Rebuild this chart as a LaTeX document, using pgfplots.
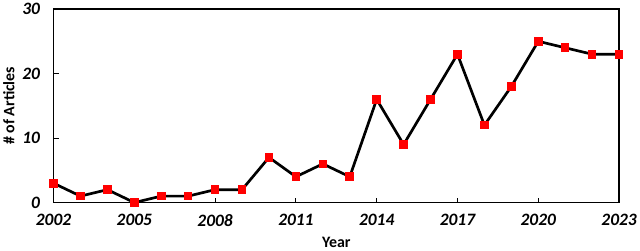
\documentclass[border=0pt]{standalone}
\usepackage{pgfplots}
\pgfplotsset{compat=1.18}
\usepackage{fontspec}
\setmainfont{Carlito}
\begin{document}
\begin{tikzpicture}
\begin{axis}[
  scale only axis,
  width=567bp, height=194bp,
  xmin=2002, xmax=2023, ymin=0, ymax=30,
  xtick={2002,2005,2008,2011,2014,2017,2020,2023},
  ytick={0,10,20,30},
  tick align=inside, tick pos=left,
  major tick length=5bp,
  axis line style={line width=1.3pt},
  every tick/.style={line width=1pt, black},
  /pgf/number format/assume math mode=true,
  /pgf/number format/1000 sep={},
  tick label style={font=\fontsize{17.5}{19}\selectfont\bfseries\itshape},
  xticklabel style={yshift=-8bp},
  yticklabel style={xshift=-10bp},
  xlabel={Year}, ylabel={\# of Articles},
  label style={font=\fontsize{16}{18}\selectfont\bfseries},
  xlabel style={yshift=-4bp},
  ylabel style={yshift=1bp},
  clip=false,
]
\addplot[black, line width=2.7pt, mark=square*, mark size=3.8bp,
  mark options={fill=red, draw=red, line width=0pt}]
  coordinates {
  (2002,3) (2003,1) (2004,2) (2005,0) (2006,1) (2007,1) (2008,2) (2009,2)
  (2010,7) (2011,4) (2012,6) (2013,4) (2014,16) (2015,9) (2016,16) (2017,23)
  (2018,12) (2019,18) (2020,25) (2021,24) (2022,23) (2023,23)
  };
\end{axis}
\end{tikzpicture}
\end{document}
